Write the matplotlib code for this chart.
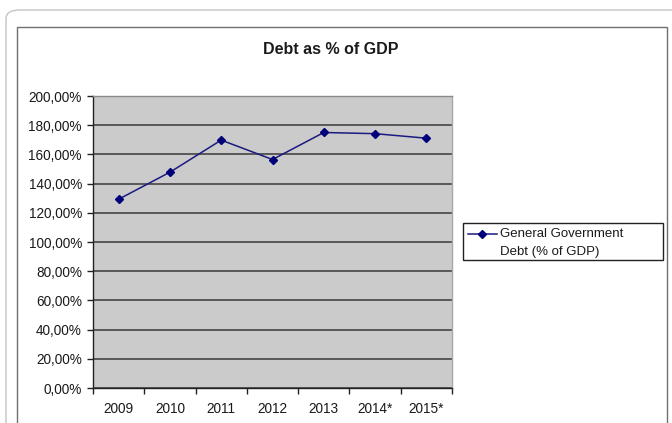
import matplotlib.pyplot as plt
from matplotlib.patches import FancyBboxPatch, Rectangle
from matplotlib.lines import Line2D

plt.rcParams['font.family'] = ['Liberation Sans', 'DejaVu Sans']

# ---- data ----
years = ['2009', '2010', '2011', '2012', '2013', '2014*', '2015*']
debt_pct = [129.3, 147.8, 169.8, 156.5, 175.0, 174.2, 171.1]
y_ticks = [0, 20, 40, 60, 80, 100, 120, 140, 160, 180, 200]
y_labels = ['%d,00%%' % v for v in y_ticks]
series_name = ['General Government', 'Debt (% of GDP)']

W, H = 672, 423
fig = plt.figure(figsize=(W / 100, H / 100), dpi=100)
fig.patch.set_facecolor('white')


def px(x0, y0, x1, y1):
    """pixel box (top-left origin) -> figure fraction rect"""
    return [x0 / W, 1 - y1 / H, (x1 - x0) / W, (y1 - y0) / H]


# outer rounded frame and inner chart frame
outer = FancyBboxPatch((6 / W, -0.2), 1.2, 1 - 10 / H + 0.2,
                       boxstyle='round,pad=0,rounding_size=0.02',
                       transform=fig.transFigure, fill=False,
                       edgecolor='#c4c4c4', linewidth=1.0, zorder=0)
fig.patches.append(outer)
inner = Rectangle((17 / W, -0.2), (667 - 17) / W, 1 - 27 / H + 0.2,
                  transform=fig.transFigure, fill=False,
                  edgecolor='#707070', linewidth=1.0, zorder=0)
fig.patches.append(inner)

ax = fig.add_axes(px(93, 96, 452, 388))
ax.set_facecolor('#cbcbcb')

line_kw = dict(color='#1a1a80', linewidth=1.1, marker='D', markersize=4.5,
               markerfacecolor='#00007a', markeredgecolor='#00007a')

x = list(range(len(years)))
ax.plot(x, debt_pct, zorder=3, **line_kw)

ax.set_xlim(-0.5, len(years) - 0.5)
ax.set_ylim(0, 200)

ax.set_yticks(y_ticks)
ax.set_yticklabels(y_labels)
ax.yaxis.grid(True, color='#3a3a3a', linewidth=1.1)
ax.set_axisbelow(True)

# category labels centred, tick marks between categories
ax.set_xticks(x)
ax.set_xticklabels(years)
ax.set_xticks([i - 0.5 for i in range(len(years) + 1)], minor=True)
ax.tick_params(axis='x', which='major', length=0, pad=10,
               labelsize=9.8, labelcolor='#1a1a1a')
ax.tick_params(axis='x', which='minor', length=4.5, width=1.0,
               color='#222222', direction='out')
ax.tick_params(axis='y', length=4.0, width=1.0, color='#222222',
               pad=4, labelsize=9.8, labelcolor='#1a1a1a')

ax.spines['left'].set_color('#222222')
ax.spines['bottom'].set_color('#222222')
ax.spines['top'].set_color('#8a8a8a')
ax.spines['right'].set_color('#a8a8a8')
for s in ax.spines.values():
    s.set_linewidth(1.0)

fig.text(331 / W, 1 - 50 / H, 'Debt as % of GDP', ha='center', va='center',
         fontsize=11.5, fontweight='bold', color='#1a1a1a')

# legend box: key sits on the first text line
leg_box = Rectangle((463 / W, 1 - 260 / H), 200 / W, 37 / H,
                    transform=fig.transFigure, fill=False,
                    edgecolor='#222222', linewidth=1.0)
fig.patches.append(leg_box)
key_y = 1 - 234 / H
fig.add_artist(Line2D([468 / W, 497 / W], [key_y, key_y],
                      transform=fig.transFigure, color=line_kw['color'],
                      linewidth=line_kw['linewidth']))
fig.add_artist(Line2D([482 / W], [key_y], transform=fig.transFigure,
                      **line_kw))
fig.text(500 / W, key_y, series_name[0], ha='left', va='center',
         fontsize=9.5, color='#1a1a1a')
fig.text(500 / W, 1 - 252 / H, series_name[1], ha='left', va='center',
         fontsize=9.5, color='#1a1a1a')

fig.savefig('out.png', dpi=100)
